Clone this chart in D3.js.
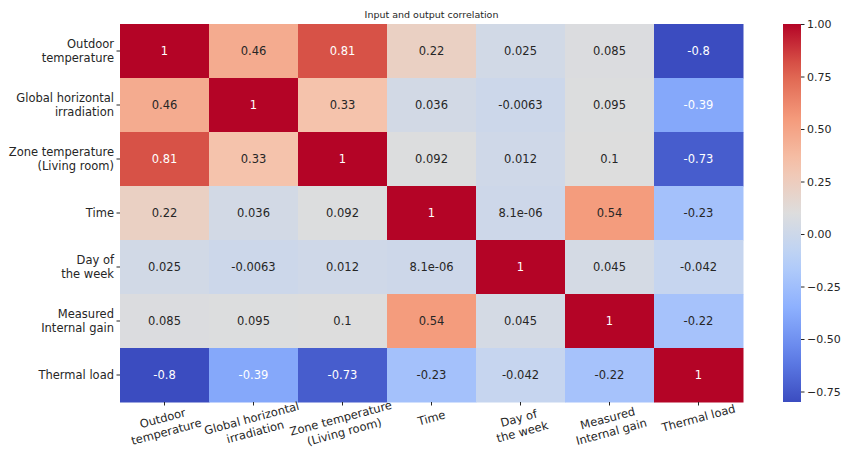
<!DOCTYPE html>
<html>
<head>
<meta charset="UTF-8">
<title>Input and output correlation</title>
<script src="https://cdn.jsdelivr.net/npm/d3@7"></script>
<style>
  body { margin: 0; background: #fff; }
  svg text { font-family: "DejaVu Sans", sans-serif; }
</style>
</head>
<body>
<script>

// variable names (rows and columns are the same)
var rowLabels = [
    ["Outdoor", "temperature"],
    ["Global horizontal", "irradiation"],
    ["Zone temperature", "(Living room)"],
    ["Time"],
    ["Day of", "the week"],
    ["Measured", "Internal gain"],
    ["Thermal load"]
];
var colLabels = rowLabels;

// correlation values, one array per row
var outdoorTemp   = [1, 0.46, 0.81, 0.22, 0.025, 0.085, -0.8];
var globalIrr     = [0.46, 1, 0.33, 0.036, -0.0063, 0.095, -0.39];
var zoneTemp      = [0.81, 0.33, 1, 0.092, 0.012, 0.1, -0.73];
var timeRow       = [0.22, 0.036, 0.092, 1, 8.1e-06, 0.54, -0.23];
var dayOfWeek     = [0.025, -0.0063, 0.012, 8.1e-06, 1, 0.045, -0.042];
var internalGain  = [0.085, 0.095, 0.1, 0.54, 0.045, 1, -0.22];
var thermalLoad   = [-0.8, -0.39, -0.73, -0.23, -0.042, -0.22, 1];
var matrix = [outdoorTemp, globalIrr, zoneTemp, timeRow, dayOfWeek, internalGain, thermalLoad];

var cbarTicks = [1.00, 0.75, 0.50, 0.25, 0.00, -0.25, -0.50, -0.75];

var width = 841, height = 453;
var margin = {top: 24, left: 120};
var plotW = 623, plotH = 378;

var svg = d3.select("body").append("svg")
    .attr("width", width)
    .attr("height", height);

var vmin = d3.min(matrix, function (r) { return d3.min(r); }),
    vmax = d3.max(matrix, function (r) { return d3.max(r); });

// approximation of matplotlib "coolwarm"
var cwStops = ["#3b4cc0", "#6282ea", "#8db0fe", "#b8d0f9", "#dddddd",
               "#f5c4ad", "#f49a7b", "#de604d", "#b40426"];
var coolwarm = d3.scaleLinear()
    .domain(d3.range(cwStops.length).map(function (i) { return i / (cwStops.length - 1); }))
    .range(cwStops)
    .interpolate(d3.interpolateRgb);
var color = function (v) { return coolwarm((v - vmin) / (vmax - vmin)); };

var idx = d3.range(rowLabels.length);
var x = d3.scaleBand().domain(idx).range([margin.left, margin.left + plotW]);
var y = d3.scaleBand().domain(idx).range([margin.top, margin.top + plotH]);

// python-like ".2g"
function fmt(v) {
    if (v === 0) return "0";
    var e = Math.floor(Math.log10(Math.abs(v)));
    if (e < -4) {
        var s = v.toExponential(1).split("e");
        var m = (+s[0]).toString();
        var ex = +s[1];
        return m + "e" + (ex < 0 ? "-" : "+") + (Math.abs(ex) < 10 ? "0" : "") + Math.abs(ex);
    }
    return (+v.toPrecision(2)).toString();
}

function lum(c) {
    var rgb = d3.rgb(c);
    var f = function (u) { u /= 255; return u <= 0.03928 ? u / 12.92 : Math.pow((u + 0.055) / 1.055, 2.4); };
    return 0.2126 * f(rgb.r) + 0.7152 * f(rgb.g) + 0.0722 * f(rgb.b);
}

var cells = [];
matrix.forEach(function (row, i) {
    row.forEach(function (v, j) { cells.push({i: i, j: j, v: v}); });
});

svg.selectAll(".cell")
    .data(cells)
    .enter().append("rect")
    .attr("class", "cell")
    .attr("x", function (d) { return x(d.j); })
    .attr("y", function (d) { return y(d.i); })
    .attr("width", x.bandwidth() + 0.5)
    .attr("height", y.bandwidth() + 0.5)
    .attr("fill", function (d) { return color(d.v); });

svg.selectAll(".annot")
    .data(cells)
    .enter().append("text")
    .attr("class", "annot")
    .attr("x", function (d) { return x(d.j) + x.bandwidth() / 2; })
    .attr("y", function (d) { return y(d.i) + y.bandwidth() / 2; })
    .attr("dy", "0.35em")
    .attr("text-anchor", "middle")
    .style("font-size", "11.5px")
    .attr("fill", function (d) { return lum(color(d.v)) > 0.408 ? "#262626" : "#ffffff"; })
    .text(function (d) { return fmt(d.v); });

// y axis
var yAxis = svg.append("g")
    .attr("transform", "translate(" + margin.left + ",0)")
    .call(d3.axisLeft(y).tickSize(3.5).tickFormat(""));
yAxis.select(".domain").remove();
yAxis.selectAll(".tick line").attr("stroke", "#262626");
yAxis.selectAll(".tick").each(function (d) {
    var lines = rowLabels[d];
    var t = d3.select(this).append("text")
        .attr("x", -6)
        .attr("text-anchor", "end")
        .attr("fill", "#262626")
        .style("font-size", "11.5px");
    lines.forEach(function (l, k) {
        t.append("tspan")
            .attr("x", -6)
            .attr("y", (k - (lines.length - 1) / 2) * 14)
            .attr("dy", "0.35em")
            .text(l);
    });
});

// x axis
var xAxis = svg.append("g")
    .attr("transform", "translate(0," + (margin.top + plotH) + ")")
    .call(d3.axisBottom(x).tickSize(3.5).tickFormat(""));
xAxis.select(".domain").remove();
xAxis.selectAll(".tick line").attr("stroke", "#262626");
xAxis.selectAll(".tick").each(function (d) {
    var lines = colLabels[d];
    var g = d3.select(this).append("g")
        .attr("transform", "translate(0," + (lines.length > 1 ? 23 : 16) + ") rotate(-15)");
    var t = g.append("text")
        .attr("text-anchor", "middle")
        .attr("fill", "#262626")
        .style("font-size", "11.5px");
    lines.forEach(function (l, k) {
        t.append("tspan")
            .attr("x", 0)
            .attr("y", (k - (lines.length - 1) / 2) * 14)
            .attr("dy", "0.35em")
            .text(l);
    });
});

// title
svg.append("text")
    .attr("x", margin.left + plotW / 2)
    .attr("y", 18)
    .attr("text-anchor", "middle")
    .attr("fill", "#262626")
    .style("font-size", "9.5px")
    .text("Input and output correlation");

// colorbar
var cbX = 783, cbW = 18;
var cbY = d3.scaleLinear().domain([vmin, vmax]).range([margin.top + plotH, margin.top]);
var defs = svg.append("defs");
var grad = defs.append("linearGradient")
    .attr("id", "cw")
    .attr("x1", 0).attr("y1", 1).attr("x2", 0).attr("y2", 0);
d3.range(0, 1.0001, 0.05).forEach(function (t) {
    grad.append("stop").attr("offset", t).attr("stop-color", coolwarm(t));
});
svg.append("rect")
    .attr("x", cbX)
    .attr("y", cbY(vmax))
    .attr("width", cbW)
    .attr("height", cbY(vmin) - cbY(vmax))
    .attr("fill", "url(#cw)");

var cbAxis = svg.append("g")
    .attr("transform", "translate(" + (cbX + cbW) + ",0)")
    .call(d3.axisRight(cbY).tickValues(cbarTicks).tickSize(3.5)
        .tickFormat(function (d) { return d3.format(".2f")(d).replace("-", "\u2212"); }));
cbAxis.select(".domain").remove();
cbAxis.selectAll(".tick line").attr("stroke", "#262626");
cbAxis.selectAll(".tick text")
    .attr("x", 6)
    .attr("fill", "#262626")
    .style("font-size", "11px");

</script>
</body>
</html>
